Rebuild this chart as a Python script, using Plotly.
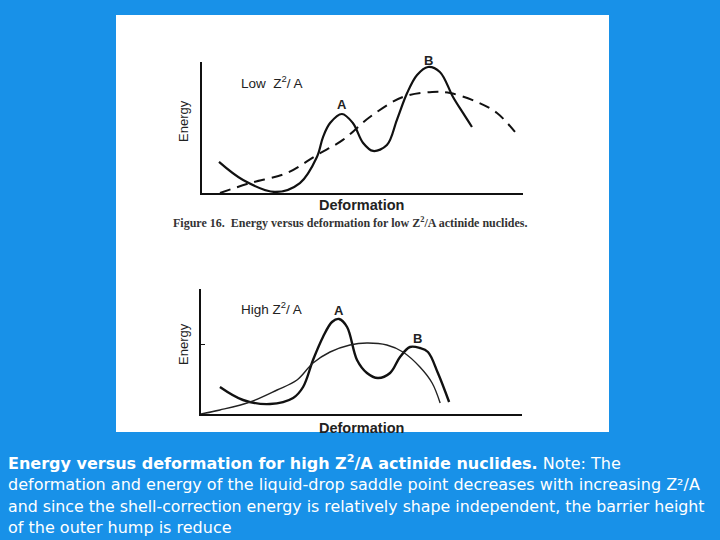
import plotly.graph_objects as go

# ---- data (deformation, energy in arbitrary units 0-100) ----
low_shell_x = [5.3, 12.8, 22.7, 30.5, 35.8, 37.7, 39.9, 43.6, 47.0, 50.2, 53.3, 57.6, 60.7, 63.9, 67.0, 70.4, 74.1, 78.2, 81.3, 84.1]
low_shell_y = [23.7, 9.9, 0.8, 7.6, 27.5, 42.7, 53.4, 60.3, 53.4, 38.2, 32.1, 36.6, 55.7, 76.3, 90.1, 96.2, 92.4, 73.3, 61.1, 50.4]
low_ld_x = [5.6, 15.0, 26.5, 35.8, 43.9, 52.3, 62.6, 71.7, 77.3, 85.7, 91.9, 97.5]
low_ld_y = [0.0, 7.6, 15.3, 29.0, 40.5, 58.0, 73.3, 77.1, 76.3, 69.5, 61.1, 46.6]

high_shell_x = [5.9, 13.1, 21.5, 28.7, 31.8, 34.9, 38.0, 40.8, 43.0, 45.5, 48.6, 51.7, 55.1, 58.9, 62.0, 65.1, 68.2, 70.7, 73.8, 77.3]
high_shell_y = [21.6, 11.2, 8.0, 12.8, 21.6, 43.2, 61.6, 73.6, 76.0, 69.6, 43.2, 32.8, 28.8, 32.8, 45.6, 53.6, 52.8, 49.6, 32.8, 9.6]
high_ld_x = [0.0, 5.9, 15.3, 23.7, 29.9, 34.9, 40.2, 46.4, 51.7, 57.9, 62.9, 68.2, 72.0, 74.5]
high_ld_y = [0.0, 3.2, 9.6, 19.2, 27.2, 40.8, 49.6, 55.2, 56.8, 55.2, 49.6, 37.6, 24.8, 8.8]

caption_lines = [
    "<b>Energy versus deformation for high Z<sup>2</sup>/A actinide nuclides.</b> Note: The",
    "deformation and energy of the liquid-drop saddle point decreases with increasing Z²/A",
    "and since the shell-correction energy is relatively shape independent, the barrier height",
    "of the outer hump is reduce",
]

BLUE = "#1891e8"
W, H = 720, 540


def px(x):
    return x / W


def py(y):
    return 1 - y / H


fig = go.Figure()
fig.add_trace(go.Scatter(x=low_shell_x, y=low_shell_y, mode="lines", line=dict(color="#111", width=2.2, shape="spline"),
                         xaxis="x", yaxis="y", showlegend=False))
fig.add_trace(go.Scatter(x=low_ld_x, y=low_ld_y, mode="lines", line=dict(color="#111", width=2, shape="spline", dash="11px,7px"),
                         xaxis="x", yaxis="y", showlegend=False))
fig.add_trace(go.Scatter(x=high_shell_x, y=high_shell_y, mode="lines", line=dict(color="#111", width=2.4, shape="spline"),
                         xaxis="x2", yaxis="y2", showlegend=False))
fig.add_trace(go.Scatter(x=high_ld_x, y=high_ld_y, mode="lines", line=dict(color="#222", width=1.4, shape="spline"),
                         xaxis="x2", yaxis="y2", showlegend=False))

ax = dict(showgrid=False, zeroline=False, showticklabels=False, showline=True, linecolor="#111", linewidth=1.5,
          range=[0, 100], fixedrange=True)

fig.update_layout(
    width=W, height=H, margin=dict(l=0, r=0, t=0, b=0),
    paper_bgcolor=BLUE, plot_bgcolor="rgba(0,0,0,0)",
    xaxis=dict(**ax, domain=[px(202), px(523)], anchor="y"),
    yaxis=dict(**ax, domain=[py(193), py(62)], anchor="x"),
    xaxis2=dict(**ax, domain=[px(201), px(522)], anchor="y2"),
    yaxis2=dict(**ax, domain=[py(414), py(289)], anchor="x2", ticks="inside", ticklen=4, tickvals=[56], tickcolor="#111"),
    shapes=[dict(type="rect", xref="paper", yref="paper", x0=px(116), x1=px(609), y0=py(432), y1=py(15),
                 fillcolor="white", line=dict(width=0), layer="below")],
)

sans = "Liberation Sans, Arial, sans-serif"


def ann(text, x, y, size=12, bold=False, angle=0, family=sans, color="#222", xanchor="center", yanchor="middle"):
    if bold:
        text = "<b>" + text + "</b>"
    fig.add_annotation(text=text, x=px(x), y=py(y), xref="paper", yref="paper", showarrow=False,
                       font=dict(size=size, family=family, color=color), textangle=angle,
                       xanchor=xanchor, yanchor=yanchor)


# top panel texts
ann("Low  Z<sup>2</sup>/ A", 272, 82, size=13.5)
ann("A", 342, 105, size=13, bold=True)
ann("B", 428, 60, size=13, bold=True)
ann("Energy", 183, 121, size=13, angle=-90)
ann("Deformation", 361, 205, size=14.5, bold=True)
ann("Figure 16.  Energy versus deformation for low Z<sup>2</sup>/A actinide nuclides.", 350, 222, size=12, bold=True,
    family="Liberation Serif, Times New Roman, serif", color="#333")

# bottom panel texts
ann("High Z<sup>2</sup>/ A", 271, 308, size=13.5)
ann("A", 339, 310, size=13, bold=True)
ann("B", 417, 338, size=13, bold=True)
ann("Energy", 183, 344, size=13, angle=-90)
ann("Deformation", 361, 428, size=14.5, bold=True)

# caption on blue background, one annotation per line
for i, (line, yc) in enumerate(zip(caption_lines, [462, 484, 506, 527])):
    ann(line, 6, yc, size=16 if i != 2 else 15.8, family="DejaVu Sans, sans-serif", color="white", xanchor="left")

fig.write_html("out.html", config={"displayModeBar": False},
               post_script="document.body.style.margin='0';document.body.style.overflow='hidden';")
